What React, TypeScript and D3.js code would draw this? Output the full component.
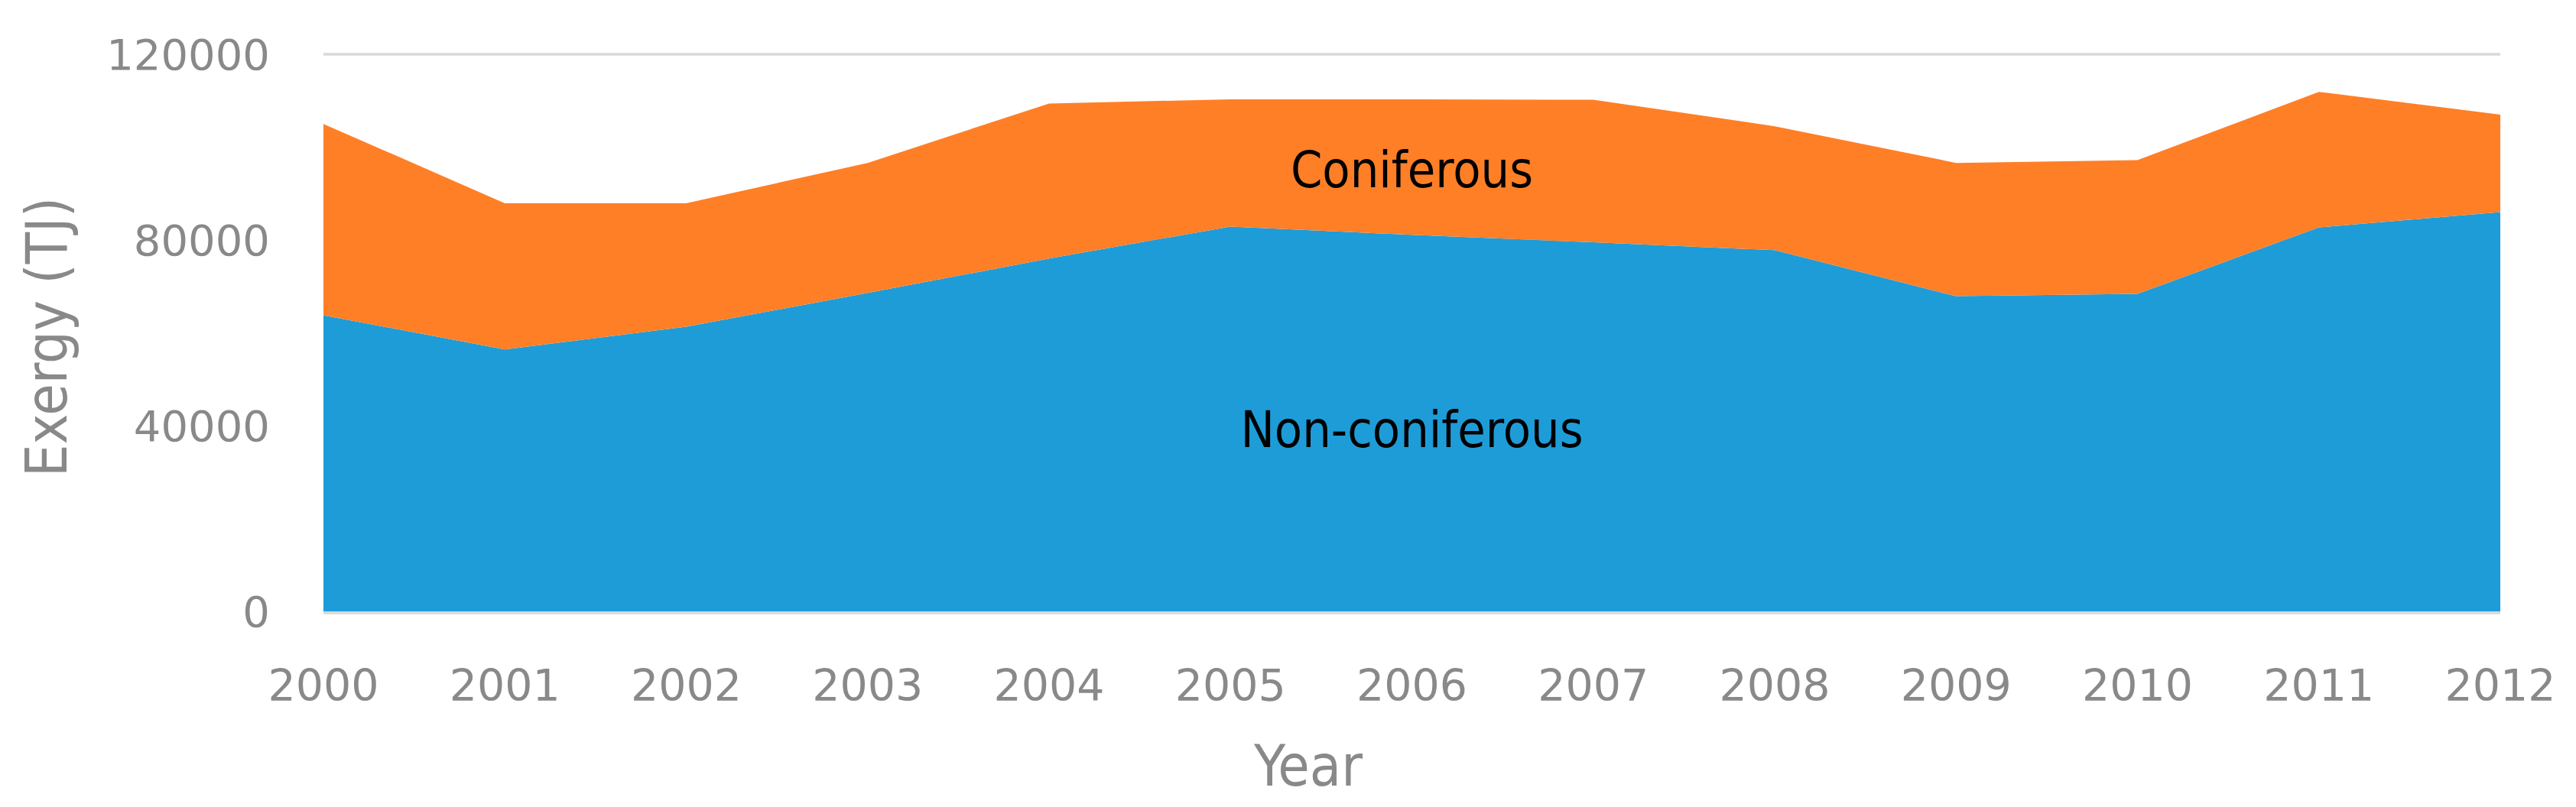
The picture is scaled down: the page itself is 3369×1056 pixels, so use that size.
import React from "react";
import * as d3 from "d3";

const years = [2000, 2001, 2002, 2003, 2004, 2005, 2006, 2007, 2008, 2009, 2010, 2011, 2012];
const nonConiferous = [63800, 56400, 61300, 68600, 76000, 82900, 81100, 79500, 77800, 67900, 68400, 82700, 86000];
const coniferous = [41200, 31500, 26600, 28000, 33400, 27400, 29200, 30700, 26700, 28700, 28800, 29200, 21000];
const yTicks = [0, 40000, 80000, 120000];
const seriesKeys = ["Non-coniferous", "Coniferous"];
const seriesColors = ["#1e9cd8", "#ff7f27"];

const W = 3369;
const H = 1056;
const left = 423;
const right = 3270;
const top = 71;
const bottom = 800;

export default function App() {
  const x = d3.scaleLinear().domain([2000, 2012]).range([left, right]);
  const y = d3.scaleLinear().domain([0, 120000]).range([bottom, top]);

  const rows = years.map((yr, i) => ({
    year: yr,
    "Non-coniferous": nonConiferous[i],
    Coniferous: coniferous[i],
  }));
  const stacked = d3.stack<any>().keys(seriesKeys)(rows);
  const area = d3
    .area<any>()
    .x((d) => x(d.data.year))
    .y0((d) => y(d[0]))
    .y1((d) => y(d[1]));

  const condensed = "'DejaVu Sans Condensed', 'DejaVu Sans', sans-serif";
  const tickFont = "'DejaVu Sans', sans-serif";

  return (
    <svg
      width={W}
      height={H}
      style={{ position: "absolute", left: 0, top: 0, background: "#fff" }}
    >
      {yTicks.map((t) => (
        <line key={"g" + t} x1={left} x2={right} y1={y(t)} y2={y(t)} stroke="#d9d9d9" strokeWidth={3.5} />
      ))}
      {stacked.map((s, i) => (
        <path key={s.key} d={area(s) || ""} fill={seriesColors[i]} />
      ))}
      <line x1={left} x2={right} y1={bottom + 2} y2={bottom + 2} stroke="#d9d9d9" strokeWidth={3.5} />
      {yTicks.map((t) => (
        <text
          key={"yl" + t}
          x={353}
          y={y(t)}
          dy="0.36em"
          textAnchor="end"
          fontFamily={tickFont}
          fontSize={56}
          fill="#898989"
        >
          {t}
        </text>
      ))}
      {years.map((yr) => (
        <text
          key={"xl" + yr}
          x={x(yr)}
          y={917}
          textAnchor="middle"
          fontFamily={tickFont}
          fontSize={57}
          fill="#898989"
        >
          {yr}
        </text>
      ))}
      <text x={1711} y={1028} textAnchor="middle" fontFamily={condensed} fontStretch="condensed" fontSize={75} fill="#898989">
        Year
      </text>
      <text
        transform={`translate(87,441) rotate(-90)`}
        textAnchor="middle"
        fontFamily={condensed}
        fontStretch="condensed"
        fontSize={75}
        fill="#898989"
      >
        Exergy (TJ)
      </text>
      <text x={x(2006)} y={245} textAnchor="middle" fontFamily={condensed} fontStretch="condensed" fontSize={66} fill="#000">
        Coniferous
      </text>
      <text x={x(2006)} y={585} textAnchor="middle" fontFamily={condensed} fontStretch="condensed" fontSize={66} fill="#000">
        Non-coniferous
      </text>
    </svg>
  );
}
